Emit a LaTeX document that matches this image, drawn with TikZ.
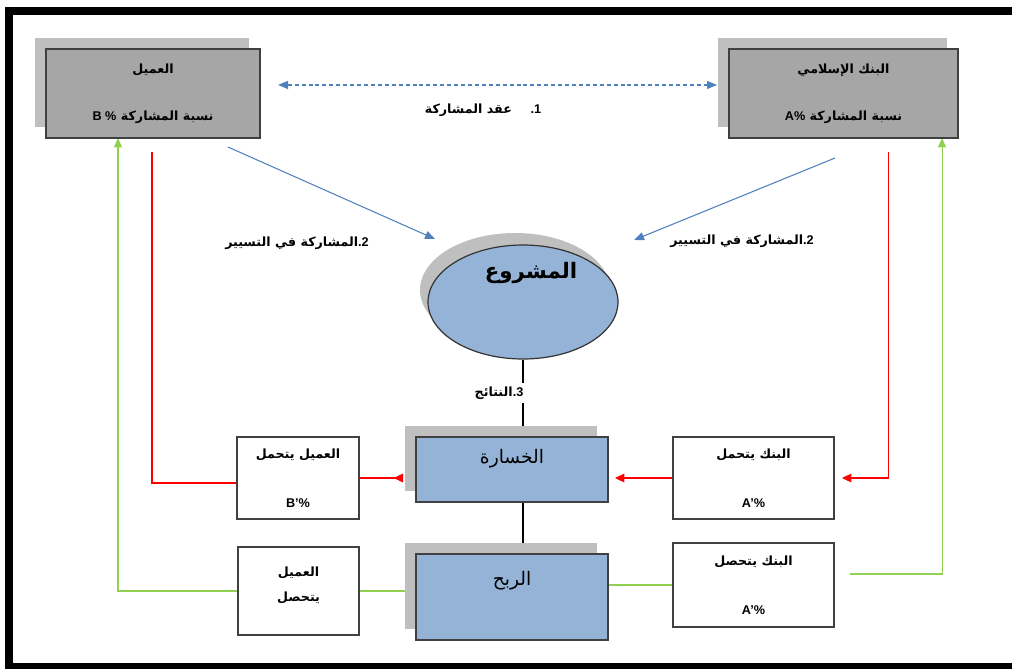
\documentclass[tikz,border=0pt]{standalone}
\usepackage{fontspec}
\setmainfont{Liberation Sans}
\newfontfamily\arabicfont[Script=Arabic]{DejaVu Sans}
\TeXXeTstate=1
\usetikzlibrary{shapes.geometric,shadows,arrows.meta,backgrounds}
\definecolor{boxgray}{HTML}{A6A6A6}
\definecolor{shadowgray}{HTML}{BFBFBF}
\definecolor{projblue}{HTML}{95B3D7}
\definecolor{arrowblue}{HTML}{4F81BD}
\definecolor{lossred}{HTML}{FF0000}
\definecolor{gaingreen}{HTML}{92D050}
\newcommand{\artext}[1]{{\arabicfont\bfseries\beginR #1\endR}}
\newcommand{\arplain}[1]{{\arabicfont\beginR #1\endR}}
\newcommand{\lat}[1]{\beginL{\rmfamily\bfseries #1}\endL{}}
\tikzset{
  bluetip/.tip={Triangle[length=7.5pt,width=6pt]},
  redtip/.tip={Triangle[length=7pt,width=6.5pt]},
  greentip/.tip={Triangle[length=7pt,width=6pt]}
}

\begin{document}
\begin{tikzpicture}[x=0.75pt,y=-0.75pt,
  box/.style={draw=black!75, line width=0.9pt, inner sep=0pt, outer sep=0pt, align=center,
    font=\fontsize{9.5}{11}\selectfont},
  partybox/.style={box, fill=boxgray,
    general shadow={fill=shadowgray, shadow xshift=-8.25pt, shadow yshift=8.25pt}},
  resultbox/.style={box, fill=projblue, font=\fontsize{14}{16}\selectfont,
    general shadow={fill=shadowgray, shadow xshift=-8.25pt, shadow yshift=8.25pt}},
  sharebox/.style={box, fill=white},
  lbl/.style={font=\fontsize{9.5}{11}\selectfont, inner sep=1pt},
  blueline/.style={draw=arrowblue, line width=0.8pt, -bluetip},
  redline/.style={draw=lossred, line width=0.8pt},
  greenline/.style={draw=gaingreen, line width=0.8pt}]
  \useasboundingbox (0,0) rectangle (1012,668);
  \begin{scope}
    \clip (0,0) rectangle (1012,668);
    \draw[line width=6pt] (8.5,10.5) rectangle (1030,666.5);
  \end{scope}

  % partners
  \node[partybox, minimum width=160.5pt, minimum height=66.75pt] (client) at (153,93.5)
    {\artext{العميل}\\[24pt]\artext{نسبة المشاركة \lat{B \%}}};
  \node[partybox, minimum width=171.75pt, minimum height=66.75pt] (bank) at (843.5,93.5)
    {\artext{البنك الإسلامي}\\[24pt]\artext{نسبة المشاركة \lat{A\%}}};

  % project
  \node[ellipse, draw=black!80, line width=0.9pt, fill=projblue, inner sep=0pt,
    minimum width=142.5pt, minimum height=85.5pt, font=\fontsize{16}{18}\selectfont,
    general shadow={fill=shadowgray, shadow xshift=-6pt, shadow yshift=9pt}] (proj) at (523,302)
    {\hspace{12pt}\raisebox{18pt}[0pt][0pt]{\artext{المشروع}}};

  % results
  \node[resultbox, minimum width=144pt, minimum height=48.75pt] (loss) at (512,469.5)
    {\raisebox{4.5pt}[0pt][0pt]{\arplain{الخسارة}}};
  \node[resultbox, minimum width=144pt, minimum height=64.5pt] (gain) at (512,597)
    {\raisebox{9pt}[0pt][0pt]{\arplain{الربح}}};

  % shares
  \node[sharebox, minimum width=91.5pt, minimum height=61.5pt] (clientloss) at (298,478)
    {\artext{العميل يتحمل}\\[26pt]\textbf{B’\%}};
  \node[sharebox, minimum width=120.75pt, minimum height=61.5pt] (bankloss) at (753.5,478)
    {\artext{البنك يتحمل}\\[26pt]\textbf{A’\%}};
  \node[sharebox, minimum width=90.75pt, minimum height=66pt] (clientgain) at (298.5,591)
    {\raisebox{10pt}{\artext{العميل}}\\[1pt]\raisebox{10pt}{\artext{يتحصل}}};
  \node[sharebox, minimum width=120.75pt, minimum height=63pt] (bankgain) at (753.5,585)
    {\artext{البنك يتحصل}\\[26pt]\textbf{A’\%}};

  % labels
  \node[lbl] (contract) at (483,110) {\artext{\lat{1}\lat{.}\hspace{14pt}عقد المشاركة}};
  \node[lbl] (mgmtL) at (297,243) {\artext{\lat{2}\lat{.}المشاركة في التسيير}};
  \node[lbl] (mgmtR) at (742,241) {\artext{\lat{2}\lat{.}المشاركة في التسيير}};
  \node[lbl, fill=white, inner sep=3pt] (results) at (499,393) {\artext{\lat{3}\lat{.}النتائج}};

  \begin{scope}[on background layer]
    \draw[draw=arrowblue, line width=0.8pt, dash pattern=on 3pt off 2.2pt, bluetip-bluetip]
      ([xshift=13.5pt,yshift=6.4pt]client.east) -- ([xshift=-9pt,yshift=6.4pt]bank.west);
    \draw[blueline] ([xshift=56.25pt,yshift=-6.75pt]client.south) -- ([xshift=-66pt,yshift=47.25pt]proj.center);
    \draw[blueline] ([xshift=-6.4pt,yshift=-15pt]bank.south) -- ([xshift=83.25pt,yshift=46.5pt]proj.center);
    \draw[line width=0.8pt] (proj.south) -- (proj.south |- loss.north);
    \draw[line width=0.8pt] (proj.south |- loss.south) -- (proj.south |- gain.north);
    % losses
    \draw[redline] ([xshift=-0.75pt,yshift=-10.5pt]client.south) |- ([yshift=-3.75pt]clientloss.west);
    \draw[redline, {redtip[reversed]}-, shorten <=9.75pt] (loss.west |- clientloss.east) -- (clientloss.east);
    \draw[redline, -redtip, shorten >=5.25pt] (bankloss.west) -- (loss.east |- bankloss.west);
    \draw[redline, -redtip, shorten >=6pt] ([xshift=33.4pt,yshift=-10.5pt]bank.south) |- (bankloss.east);
    % gains
    \draw[greenline, -greentip] (clientgain.west) -| ([xshift=-26.25pt]client.south);
    \draw[greenline, shorten >=8.25pt] (clientgain.east) -- (gain.west |- clientgain.east);
    \draw[greenline] (gain.east |- bankgain.west) -- (bankgain.west);
    \draw[greenline, -greentip] ([xshift=12pt,yshift=8.25pt]bankgain.east) -| ([xshift=73.9pt]bank.south);
  \end{scope}
\end{tikzpicture}
\end{document}
